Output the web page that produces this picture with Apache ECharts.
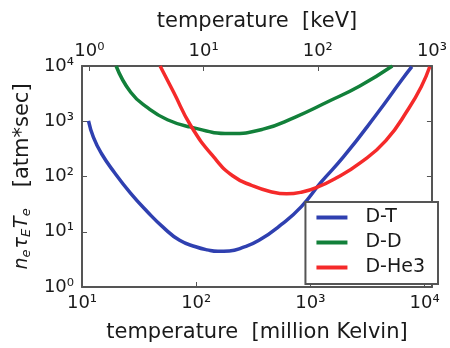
<!DOCTYPE html>
<html>
<head>
<meta charset="utf-8">
<script src="https://cdn.jsdelivr.net/npm/echarts@6/dist/echarts.min.js"></script>
<style>
  html, body { margin: 0; padding: 0; background: #fff; }
  #chart { width: 450px; height: 348px; }
</style>
</head>
<body>
<div id="chart"></div>
<script>
// temperature in million Kelvin, triple product in atm*sec
var dtT = [11.4, 12.6, 14.8, 19.3, 26.7, 37.2, 51.5, 71.6, 99, 125, 155, 195, 250, 355, 562, 834, 1236, 1955, 3760, 6350, 7740];
var dtV = [1020, 510, 261, 117, 49.5, 23.3, 12.0, 7.0, 5.35, 4.7, 4.42, 4.5, 5.1, 7.0, 13.7, 28.5, 78, 228, 1300, 5690, 9720];

var ddT = [19.9, 26.7, 37.5, 56, 88, 196, 379, 730, 1406, 2710, 5220];
var ddV = [10000, 3340, 1760, 1064, 790, 600, 712, 1180, 2230, 4350, 10000];

var dheT = [48.3, 63.5, 90, 141.6, 210, 311, 450, 620, 834, 1150, 1700, 2710, 4580, 7260, 9420, 11100];
var dheV = [10000, 3340, 820, 228, 102, 68, 53, 48.5, 52, 64, 95, 174, 446, 1700, 4350, 9700];

var seriesNames = ['D-T', 'D-D', 'D-He3'];
var colors = ['#2f40b0', '#12803a', '#f52a2a'];

var kevToMK = 11.604;
var sup = {'0': '⁰', '1': '¹', '2': '²', '3': '³', '4': '⁴', '-': '⁻'};

function pow10Label(v) {
    var e = Math.log10(v);
    var r = Math.round(e);
    if (Math.abs(e - r) > 1e-6) return '';
    return '10' + String(r).split('').map(function (c) { return sup[c]; }).join('');
}

function zip(a, b) {
    return a.map(function (x, i) { return [x, b[i]]; });
}

var myChart = echarts.init(document.getElementById('chart'));

var axisLine = { show: true, lineStyle: { color: '#555', width: 2 } };
var tick = { show: true, inside: true, length: 5, lineStyle: { color: '#555', width: 1 } };
var label = { color: '#1a1a1a', fontSize: 18, fontFamily: 'DejaVu Sans', formatter: pow10Label };
var nameStyle = { color: '#1a1a1a', fontSize: 21, fontFamily: 'DejaVu Sans' };

option = {
    animation: false,
    backgroundColor: '#fff',
    grid: {
        left: 82,
        right: 10,
        top: 66,
        bottom: 53
    },
    legend: {
        orient: 'vertical',
        right: 12,
        top: 202,
        data: seriesNames,
        icon: 'rect',
        itemWidth: 31,
        itemHeight: 4,
        itemGap: 6,
        padding: [6, 13, 7, 11],
        borderColor: '#555',
        borderWidth: 2,
        backgroundColor: '#fff',
        textStyle: {
            color: '#1a1a1a',
            fontSize: 19,
            fontFamily: 'DejaVu Sans',
            padding: [0, 0, 0, 13]
        }
    },
    xAxis: [{
        type: 'log',
        logBase: 10,
        min: 10,
        max: 1000 * kevToMK,
        position: 'bottom',
        name: 'temperature  [million Kelvin]',
        nameLocation: 'middle',
        nameGap: 35,
        nameTextStyle: nameStyle,
        axisLine: axisLine,
        axisTick: tick,
        axisLabel: Object.assign({ margin: 7 }, label),
        splitLine: { show: false }
    }, {
        type: 'log',
        logBase: 10,
        min: 10 / kevToMK,
        max: 1000,
        position: 'top',
        name: 'temperature  [keV]',
        nameLocation: 'middle',
        nameGap: 34,
        nameTextStyle: nameStyle,
        axisLine: axisLine,
        axisTick: tick,
        axisLabel: Object.assign({ margin: 6 }, label),
        splitLine: { show: false }
    }],
    yAxis: [{
        type: 'log',
        logBase: 10,
        min: 1,
        max: 10000,
        position: 'left',
        name: '{m|n}{s|e}{m|τ}{s|E}{m|T}{s|e}{t|   [atm*sec]}',
        nameLocation: 'middle',
        nameRotate: 90,
        nameGap: 48,
        nameTextStyle: {
            color: '#1a1a1a',
            rich: {
                m: { fontSize: 19, fontStyle: 'italic', fontFamily: 'DejaVu Sans', color: '#1a1a1a' },
                s: { fontSize: 13, fontStyle: 'italic', fontFamily: 'DejaVu Sans', color: '#1a1a1a', padding: [8, 1, 0, 0] },
                t: { fontSize: 21, fontFamily: 'DejaVu Sans', color: '#1a1a1a' }
            }
        },
        axisLine: axisLine,
        axisTick: tick,
        axisLabel: Object.assign({ margin: 8 }, label),
        splitLine: { show: false }
    }, {
        type: 'log',
        logBase: 10,
        min: 1,
        max: 10000,
        position: 'right',
        axisLine: axisLine,
        axisTick: tick,
        axisLabel: { show: false },
        splitLine: { show: false }
    }],
    series: [{
        name: seriesNames[0],
        type: 'line',
        smooth: true,
        symbol: 'none',
        data: zip(dtT, dtV),
        itemStyle: { color: colors[0] },
        lineStyle: { color: colors[0], width: 3.5 }
    }, {
        name: seriesNames[1],
        type: 'line',
        smooth: true,
        symbol: 'none',
        data: zip(ddT, ddV),
        itemStyle: { color: colors[1] },
        lineStyle: { color: colors[1], width: 3.5 }
    }, {
        name: seriesNames[2],
        type: 'line',
        smooth: true,
        symbol: 'none',
        data: zip(dheT, dheV),
        itemStyle: { color: colors[2] },
        lineStyle: { color: colors[2], width: 3.5 }
    }]
};
myChart.setOption(option);
</script>
</body>
</html>
